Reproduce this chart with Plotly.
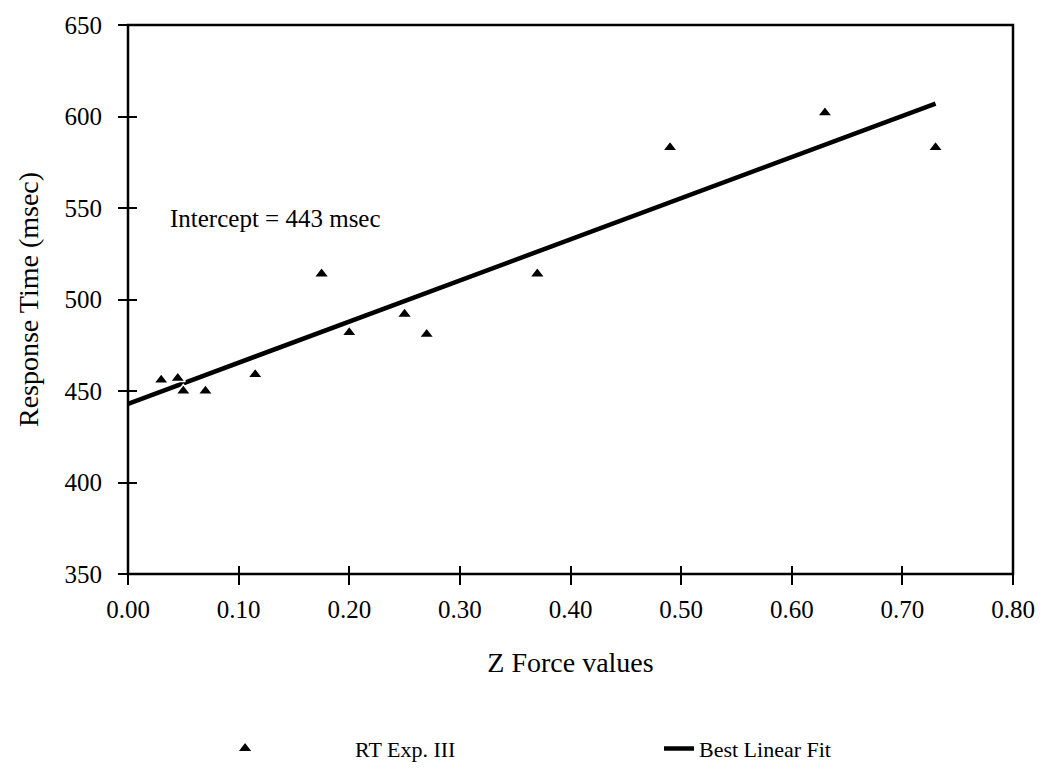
import plotly.graph_objects as go

# Z force values and measured response times (Experiment III)
z_force = [0.03, 0.045, 0.05, 0.07, 0.115, 0.175, 0.20, 0.25, 0.27, 0.37, 0.49, 0.63, 0.73]
rt_msec = [456, 457, 450, 450, 459, 514, 482, 492, 481, 514, 583, 602, 583]

# Best linear fit, drawn between its two end points
fit_x = [0.0, 0.73]
fit_y = [443, 607]

x_ticks = [0.0, 0.1, 0.2, 0.3, 0.4, 0.5, 0.6, 0.7, 0.8]
x_tick_text = ["0.00", "0.10", "0.20", "0.30", "0.40", "0.50", "0.60", "0.70", "0.80"]
y_ticks = [350, 400, 450, 500, 550, 600, 650]

SERIF = "Liberation Serif, Times New Roman, serif"

W, H = 1047, 782
M_L, M_R, M_T, M_B = 128, 31, 21, 192
PLOT_W = W - M_L - M_R
PLOT_H = H - M_T - M_B
TICK_IN = 9    # part of each tick mark inside the frame
TICK_OUT = 10  # part of each tick mark outside the frame

fig = go.Figure()

fig.add_trace(go.Scatter(
    x=fit_x, y=fit_y, mode="lines", name="Best Linear Fit",
    line=dict(color="black", width=4.5),
    legend="legend2", hoverinfo="skip",
))

fig.add_trace(go.Scatter(
    x=z_force, y=rt_msec, mode="markers", name="RT Exp. III",
    marker=dict(symbol="triangle-up", size=13, color="black",
                line=dict(color="white", width=1.5)),
    legend="legend",
))

# axes float just inside the frame so their outward ticks cross the frame line
axis_common = dict(
    showgrid=False, zeroline=False, showline=False,
    anchor="free",
    ticks="outside", ticklen=TICK_IN + TICK_OUT, tickwidth=2, tickcolor="black",
    tickfont=dict(family=SERIF, size=25, color="black"),
)

fig.update_layout(
    width=W, height=H,
    paper_bgcolor="white", plot_bgcolor="white",
    margin=dict(l=M_L, r=M_R, t=M_T, b=M_B),
    xaxis=dict(
        range=[0, 0.8], tickvals=x_ticks, ticktext=x_tick_text,
        position=TICK_IN / PLOT_H,
        title=dict(text="Z Force values", font=dict(family=SERIF, size=28, color="black"),
                   standoff=30),
        ticklabelstandoff=3,
        **axis_common,
    ),
    yaxis=dict(
        range=[350, 650], tickvals=y_ticks,
        position=TICK_IN / PLOT_W,
        title=dict(text="Response Time (msec)", font=dict(family=SERIF, size=28, color="black"),
                   standoff=16),
        ticklabelstandoff=11,
        **axis_common,
    ),
    shapes=[dict(
        type="rect", xref="paper", yref="paper", x0=0, x1=1, y0=0, y1=1,
        line=dict(color="black", width=2.5), fillcolor="rgba(0,0,0,0)", layer="above",
    )],
    legend=dict(orientation="h", x=0.008, xanchor="left", y=-0.318, yanchor="middle",
                font=dict(family=SERIF, size=22, color="black"),
                itemwidth=210, bgcolor="rgba(0,0,0,0)"),
    legend2=dict(orientation="h", x=0.60, xanchor="left", y=-0.318, yanchor="middle",
                 font=dict(family=SERIF, size=22, color="black"),
                 itemwidth=30, bgcolor="rgba(0,0,0,0)"),
    showlegend=True,
    annotations=[dict(
        x=0.036, y=544, xref="x", yref="y", xanchor="left", yanchor="middle",
        text="Intercept = 443 msec", showarrow=False,
        font=dict(family=SERIF, size=25, color="black"),
    )],
)

fig.write_html("out.html")
